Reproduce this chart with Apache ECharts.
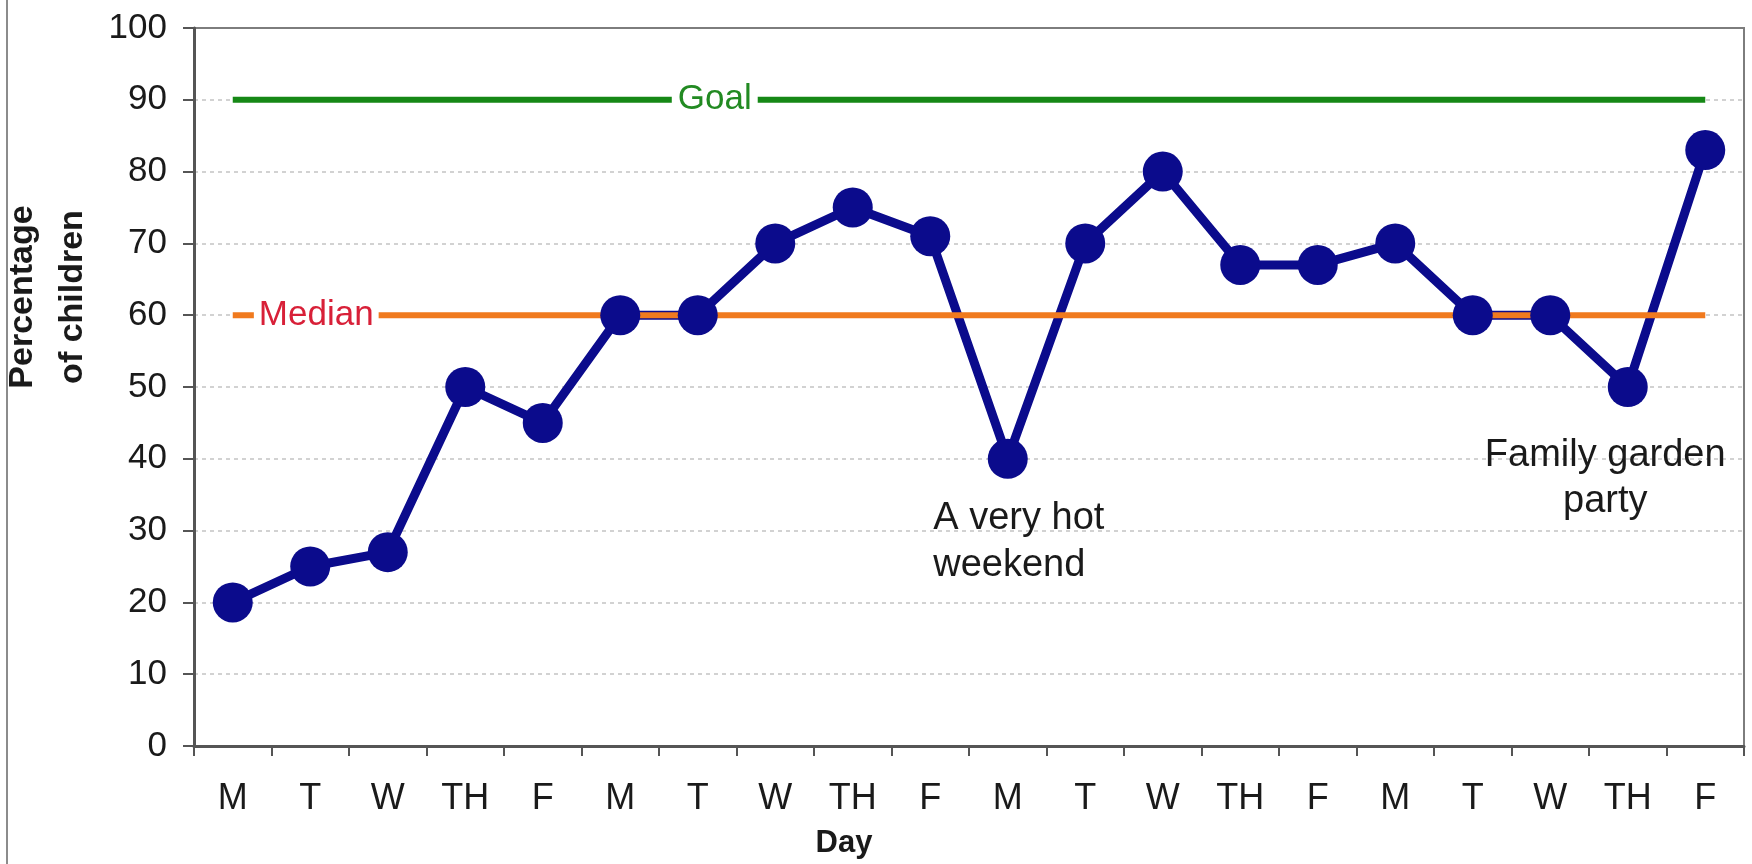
<!DOCTYPE html>
<html>
<head>
<meta charset="utf-8">
<title>Percentage of children by day</title>
<script src="https://cdn.jsdelivr.net/npm/echarts@6/dist/echarts.min.js"></script>
<style>
  html, body { margin: 0; padding: 0; background: #ffffff; }
  #chart { width: 1752px; height: 864px; }
</style>
</head>
<body>
<div id="chart"></div>
<script>
// Day of each observation, four school weeks in a row
const days = ['M', 'T', 'W', 'TH', 'F',
              'M', 'T', 'W', 'TH', 'F',
              'M', 'T', 'W', 'TH', 'F',
              'M', 'T', 'W', 'TH', 'F'];

// Percentage of children for each day
const percentages = [20, 25, 27, 50, 45,
                     60, 60, 70, 75, 71,
                     40, 70, 80, 67, 67,
                     70, 60, 60, 50, 83];

// Reference levels
const GOAL = 90;
const MEDIAN = 60;

// Notes attached to particular days: [day index, text]
const notes = [
  [10, 'A very hot\nweekend'],
  [18, 'Family garden\nparty']
];

// Y-axis tick range
const yMin = 0, yMax = 100, yStep = 10;

const goalValues = days.map(() => GOAL);
const medianValues = days.map(() => MEDIAN);

const FONT = '"Liberation Sans", Arial, Helvetica, sans-serif';
const NAVY = '#0b0b8c';

const chart = echarts.init(document.getElementById('chart'), null, { renderer: 'canvas' });

chart.setOption({
  animation: false,
  backgroundColor: '#ffffff',
  textStyle: { fontFamily: FONT },
  graphic: [{
    type: 'line',
    shape: { x1: 7, y1: 0, x2: 7, y2: 864 },
    style: { stroke: '#8c8c8c', lineWidth: 2 },
    silent: true
  }],
  grid: {
    left: 194, right: 8, top: 28, bottom: 118,
    containLabel: false,
    outerBoundsMode: 'none',
    show: true,
    borderColor: '#7d7d7d',
    borderWidth: 2,
    backgroundColor: '#ffffff'
  },
  xAxis: {
    type: 'category',
    data: days,
    boundaryGap: true,
    name: 'Day',
    nameLocation: 'middle',
    nameGap: 82,
    nameTextStyle: {
      fontFamily: FONT, fontSize: 31, fontWeight: 'bold', color: '#1a1a1a',
      padding: [0, 250, 0, 0]
    },
    axisLine: { lineStyle: { color: '#555555', width: 3 } },
    axisTick: { show: true, interval: 0, alignWithLabel: false, length: 10,
                lineStyle: { color: '#555555', width: 2 } },
    axisLabel: { interval: 0, margin: 35, fontFamily: FONT, fontSize: 36, color: '#1a1a1a' },
    splitLine: { show: false }
  },
  yAxis: {
    type: 'value',
    min: yMin, max: yMax, interval: yStep,
    name: 'Percentage\nof children',
    nameLocation: 'middle',
    nameRotate: 90,
    nameGap: 87,
    nameTextStyle: {
      fontFamily: FONT, fontSize: 34, fontWeight: 'bold', color: '#1a1a1a',
      lineHeight: 50, align: 'center',
      padding: [0, 0, 0, 180]
    },
    axisLine: { show: true, lineStyle: { color: '#555555', width: 3 } },
    axisTick: { show: true, length: 11, lineStyle: { color: '#555555', width: 2 } },
    axisLabel: { margin: 27, fontFamily: FONT, fontSize: 35, color: '#1a1a1a' },
    splitLine: {
      show: true, showMinLine: false, showMaxLine: false,
      lineStyle: { color: '#c4c4c4', width: 1.5, type: [4, 4] }
    }
  },
  series: [
    {
      // connecting line of the daily percentages
      name: 'Percentage',
      type: 'line',
      data: percentages,
      symbol: 'none',
      lineStyle: { color: NAVY, width: 9 },
      z: 2,
      silent: true
    },
    {
      name: 'Goal',
      type: 'line',
      data: goalValues,
      symbol: 'none',
      lineStyle: { color: '#168816', width: 6 },
      z: 3,
      silent: true,
      markPoint: {
        symbol: 'rect',
        symbolSize: 1,
        itemStyle: { color: 'rgba(0,0,0,0)' },
        data: [{
          coord: [6, GOAL],
          label: {
            show: true, position: 'inside', offset: [17, 0],
            formatter: 'Goal', fontFamily: FONT, fontSize: 35, color: '#228a22',
            backgroundColor: '#ffffff', padding: [2, 6]
          }
        }]
      }
    },
    {
      name: 'Median',
      type: 'line',
      data: medianValues,
      symbol: 'none',
      lineStyle: { color: '#f07a1e', width: 6 },
      z: 3,
      silent: true,
      markPoint: {
        symbol: 'rect',
        symbolSize: 1,
        itemStyle: { color: 'rgba(0,0,0,0)' },
        data: [{
          coord: [1, MEDIAN],
          label: {
            show: true, position: 'inside', offset: [6, 0],
            formatter: 'Median', fontFamily: FONT, fontSize: 35, color: '#d82038',
            backgroundColor: '#ffffff', padding: [2, 5]
          }
        }]
      }
    },
    {
      // round markers on top of the reference lines
      name: 'Markers',
      type: 'scatter',
      data: percentages,
      symbol: 'circle',
      symbolSize: 40,
      itemStyle: { color: NAVY, opacity: 1 },
      z: 4,
      silent: true,
      markPoint: {
        symbol: 'rect',
        symbolSize: 1,
        itemStyle: { color: 'rgba(0,0,0,0)' },
        data: [
          {
            coord: [notes[0][0], percentages[notes[0][0]]],
            label: {
              show: true, position: [-74, 37], align: 'left', verticalAlign: 'top',
              formatter: notes[0][1], fontFamily: FONT, fontSize: 38, lineHeight: 47,
              color: '#1a1a1a'
            }
          },
          {
            coord: [notes[1][0], percentages[notes[1][0]]],
            label: {
              show: true, position: [-22, 46], align: 'center', verticalAlign: 'top',
              formatter: notes[1][1], fontFamily: FONT, fontSize: 38, lineHeight: 46,
              color: '#1a1a1a'
            }
          }
        ]
      }
    }
  ]
});
</script>
</body>
</html>
